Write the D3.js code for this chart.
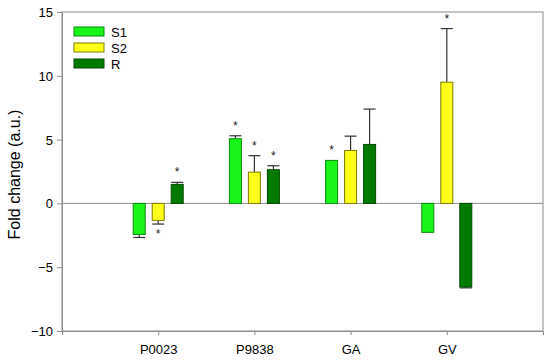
<!DOCTYPE html>
<html><head><meta charset="utf-8">
<script src="https://cdn.jsdelivr.net/npm/d3@7"></script>
<style>body{margin:0;background:#fff}svg{display:block}text{font-family:"Liberation Sans",Arial,sans-serif}</style>
</head><body>
<svg id="c" width="550" height="361"></svg>
<script>
const categories = ["P0023","P9838","GA","GV"];
const seriesNames = ["S1","S2","R"];
const valuesS1 = [-2.43, 5.07, 3.37, -2.27];
const valuesS2 = [-1.33, 2.45, 4.15, 9.5];
const valuesR  = [1.49, 2.64, 4.62, -6.55];
const errS1 = [0.24, 0.23, 0, 0];
const errS2 = [0.29, 1.29, 1.12, 4.2];
const errR  = [0.16, 0.31, 2.77, 0.07];
const sigS1 = [false, true, true, false];
const sigS2 = [true, true, false, true];
const sigR  = [true, true, false, false];
const yTicks = [-10,-5,0,5,10,15];

const fills = ["#19f519","#ffff19","#007a00"];
const strokes = ["#0a8a0a","#7a7a00","#004a00"];
const values = [valuesS1, valuesS2, valuesR];
const errs = [errS1, errS2, errR];
const sigs = [sigS1, sigS2, sigR];

const svg = d3.select("#c");
const L = 62, R = 543, T = 12, B = 331;
const x = d3.scalePoint().domain(categories).range([L, R]).padding(1);
const y = d3.scaleLinear().domain([-10, 15]).range([B, T]);
const off = d3.scalePoint().domain(seriesNames).range([-19, 19]);
const bw = 12;

// frame
svg.append("rect").attr("x", L).attr("y", T).attr("width", R - L).attr("height", B - T)
  .attr("fill", "none").attr("stroke", "#8c8c8c").attr("stroke-width", 1);
// zero line
svg.append("line").attr("x1", L).attr("x2", R).attr("y1", y(0)).attr("y2", y(0))
  .attr("stroke", "#8c8c8c");

// axes
const ya = svg.append("g").attr("transform", `translate(${L},0)`)
  .call(d3.axisLeft(y).tickValues(yTicks).tickSize(5).tickPadding(4).tickFormat(d3.format("d")));
const xa = svg.append("g").attr("transform", `translate(0,${B})`)
  .call(d3.axisBottom(x).tickSize(4).tickPadding(10));
[ya, xa].forEach(g => {
  g.select(".domain").attr("stroke", "#8c8c8c");
  g.selectAll(".tick line").attr("stroke", "#8c8c8c");
  g.selectAll("text").attr("font-size", 13).attr("fill", "#000")
    .attr("font-family", '"Liberation Sans",Arial,sans-serif');
});
ya.selectAll("text").attr("dy", "0.35em");

// bars
seriesNames.forEach((s, si) => {
  const g = svg.append("g");
  categories.forEach((c, ci) => {
    const v = values[si][ci], e = errs[si][ci];
    const cx = x(c) + off(s);
    if (e > 0) {
      const yv = y(v), ye = y(v + Math.sign(v) * e);
      g.append("line").attr("x1", cx).attr("x2", cx).attr("y1", yv).attr("y2", ye)
        .attr("stroke", "#333").attr("stroke-width", 1.2);
      g.append("line").attr("x1", cx - bw/2).attr("x2", cx + bw/2).attr("y1", ye).attr("y2", ye)
        .attr("stroke", "#333").attr("stroke-width", 1.2);
    }
    g.append("rect").attr("x", cx - bw/2).attr("width", bw)
      .attr("y", Math.min(y(v), y(0))).attr("height", Math.abs(y(v) - y(0)))
      .attr("fill", fills[si]).attr("stroke", strokes[si]).attr("stroke-width", 1);
    if (sigs[si][ci]) {
      const tip = v + Math.sign(v) * e;
      const ty = v >= 0 ? y(tip) - 6 : y(tip) + 14;
      g.append("text").attr("x", cx).attr("y", ty).attr("text-anchor", "middle")
        .attr("font-size", 12).attr("fill", "#222").text("*");
    }
  });
});

// y title
svg.append("text").attr("transform", `translate(20,${(T + B) / 2 + 3}) rotate(-90)`)
  .attr("text-anchor", "middle").attr("font-size", 16).text("Fold change (a.u.)");

// legend
seriesNames.forEach((s, si) => {
  const ly = 27 + si * 16;
  svg.append("rect").attr("x", 74).attr("y", ly).attr("width", 30).attr("height", 9)
    .attr("fill", fills[si]).attr("stroke", strokes[si]);
  svg.append("text").attr("x", 111).attr("y", ly + 9.5).attr("font-size", 13).text(s);
});
</script>
</body></html>
